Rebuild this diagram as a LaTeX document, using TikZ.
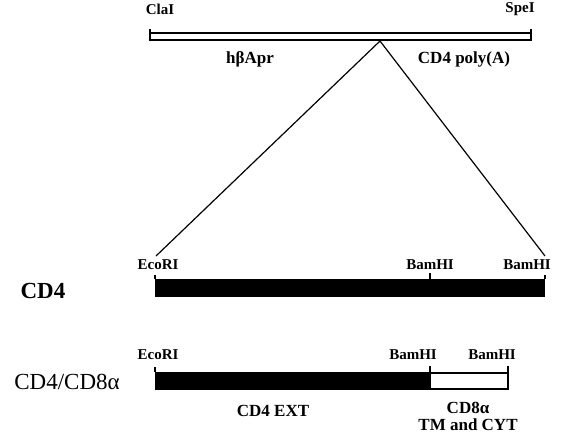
\documentclass[tikz,border=0pt]{standalone}
\usepackage{fontspec}
\setmainfont{Liberation Serif}
\begin{document}
\begin{tikzpicture}[x=1pt,y=-1pt,
  site/.style={font=\bfseries\fontsize{15}{16}\selectfont, inner sep=0pt},
  seg/.style={font=\bfseries\fontsize{17}{17}\selectfont, inner sep=0pt, align=center},
  rowlab/.style={font=\fontsize{23}{24}\selectfont, inner sep=0pt},
  line/.style={line width=1.2pt}]
\useasboundingbox (0,0) rectangle (567,437);
% top construct
\draw[line] (150,33) rectangle (531,40);
\coordinate (tl1) at (150,29); \coordinate (tl2) at (150,41);
\coordinate (tr1) at (531,29); \coordinate (tr2) at (531,41);
\draw[line] (tl1) -- (tl2);
\draw[line] (tr1) -- (tr2);
\node[site] (cla) at (160,9) {ClaI};
\node[site] (spe) at (520,9) {SpeI};
\node[seg] (hba) at (250,59) {hβApr};
\node[seg] (poly) at (464,59) {CD4 poly(A)};
\coordinate (apex) at (380,41);
\coordinate (lend) at (156,256);
\coordinate (rend) at (545,256);
\draw[line] (lend) -- (apex) -- (rend);
% CD4
\node[rowlab,font=\bfseries\fontsize{23}{24}\selectfont] (cd4) at (43,291) {CD4};
\fill (155,279) rectangle (545,297);
\coordinate (b1) at (430,273); \coordinate (b1b) at (430,279);
\draw[line] (b1) -- (b1b);
\draw[line] (155,275) -- (155,279);
\draw[line] (545,275) -- (545,279);
\node[site] (eco1) at (158,265) {EcoRI};
\node[site] (bam1) at (430,265) {BamHI};
\node[site] (bam2) at (527,265) {BamHI};
% CD4/CD8a
\node[rowlab] (cd48) at (67,382) {CD4/CD8α};
\fill (155,372) rectangle (430,390);
\draw[line] (430,373) rectangle (508,389);
\draw[line] (155,367) -- (155,372);
\draw[line] (430,366) -- (430,373);
\draw[line] (508,366) -- (508,373);
\node[site] (eco2) at (158,355) {EcoRI};
\node[site] (bam3) at (413,355) {BamHI};
\node[site] (bam4) at (492,355) {BamHI};
\node[seg] (ext) at (273,411) {CD4 EXT};
\node[seg] (cd8) at (468,416) {CD8α\\TM and CYT};
\end{tikzpicture}
\end{document}
